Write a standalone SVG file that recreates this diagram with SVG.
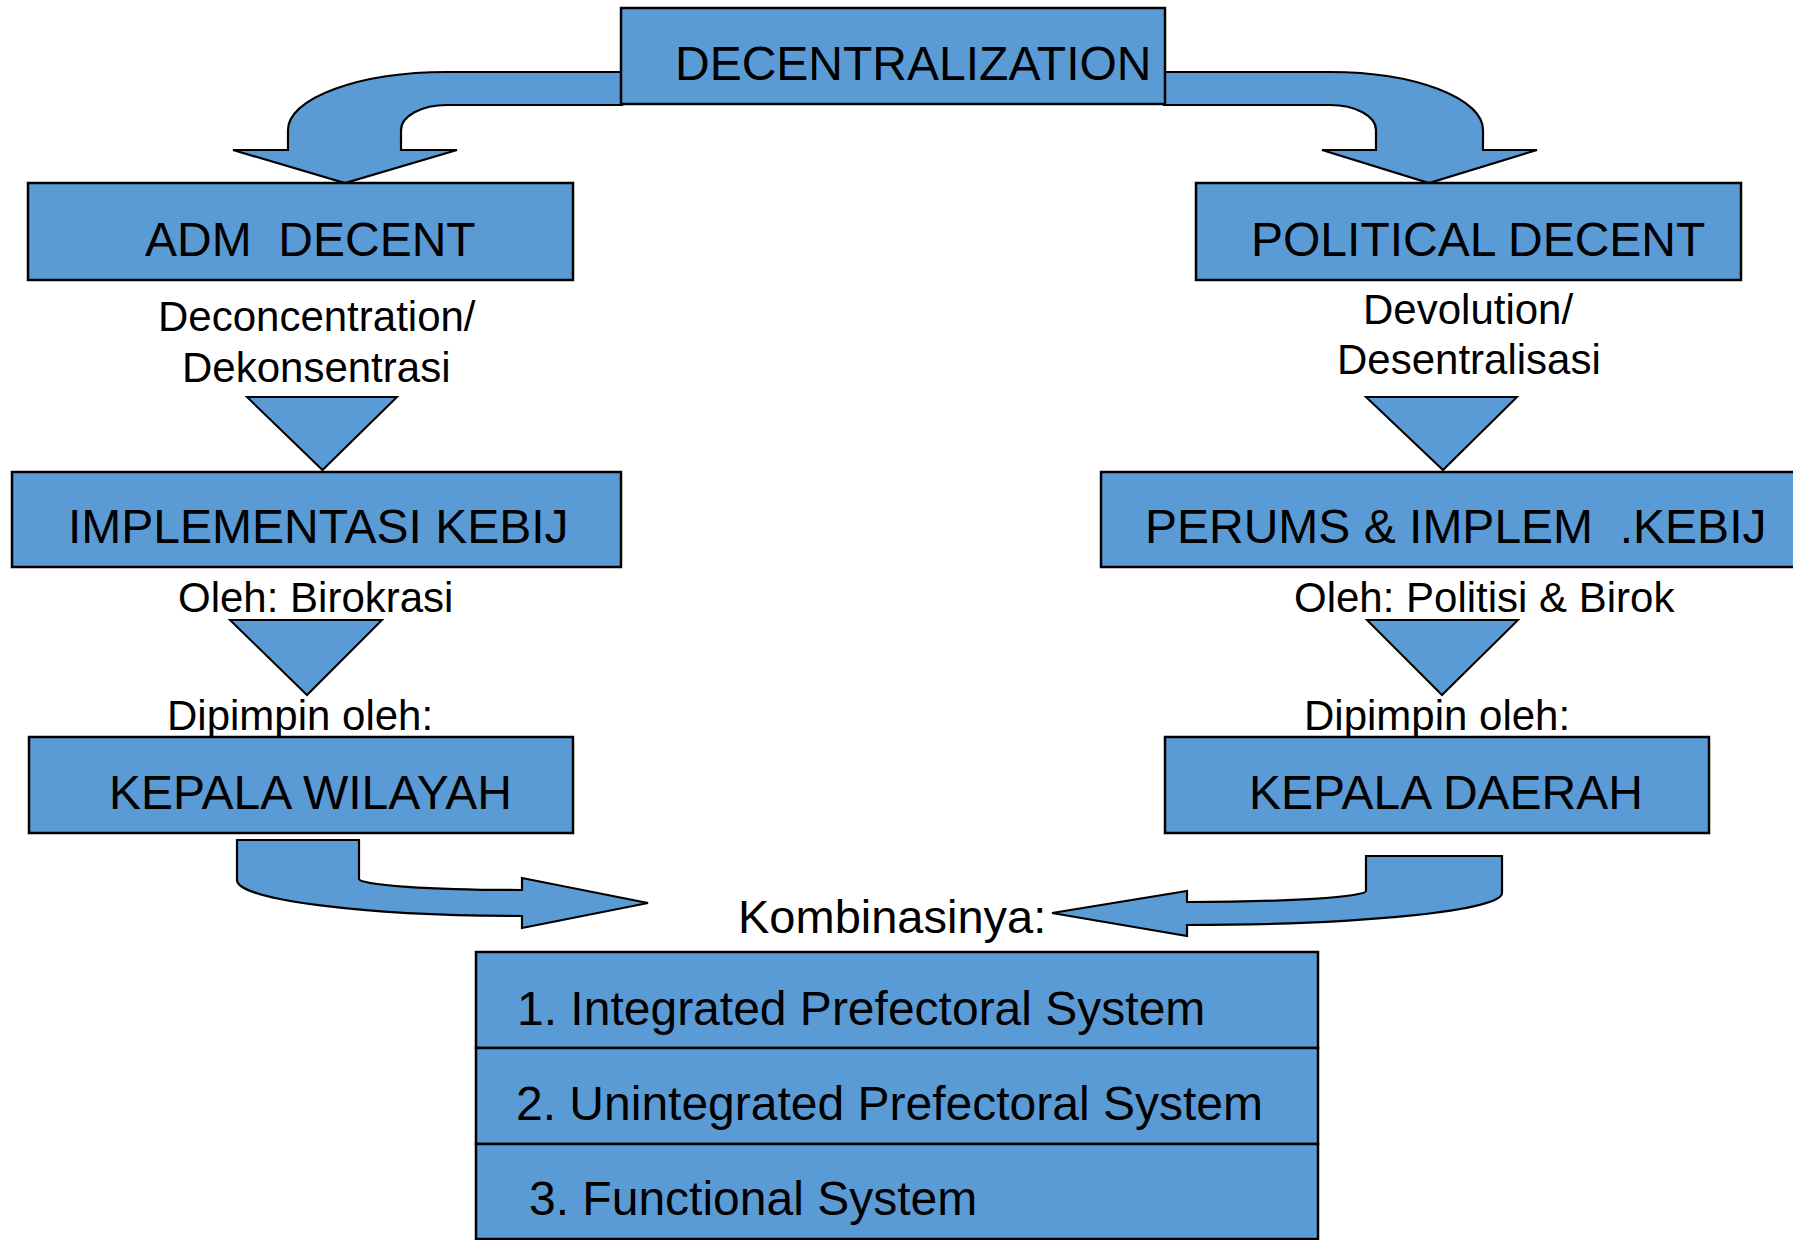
<svg xmlns="http://www.w3.org/2000/svg" width="1793" height="1240" viewBox="0 0 1793 1240">
<style>
  .box { fill: #5B9BD5; stroke: #000; stroke-width: 2.5; }
  .arr { fill: #5B9BD5; stroke: #000; stroke-width: 2.2; stroke-linejoin: miter; }
  .tri { fill: #5B9BD5; stroke: #000; stroke-width: 2; }
  text { font-family: "Liberation Sans", Arial, sans-serif; fill: #000; white-space: pre; }
  .big { font-size: 48px; }
  .lbl { font-size: 42px; }
</style>
<rect width="1793" height="1240" fill="#fff"/>

<g id="connectors">
  <path class="arr" d="M 622,72 L 447,72 A 159,58 0 0 0 288,130 L 288,150 L 233,150 L 345,183 L 457,150 L 401,150 L 401,130 A 46,25 0 0 1 447,105 L 622,105 Z"/>
  <path class="arr" d="M 1164,72 L 1330,72 A 153,58 0 0 1 1483,130 L 1483,150 L 1537,150 L 1429,183 L 1322,150 L 1376,150 L 1376,130 A 46,25 0 0 0 1330,105 L 1164,105 Z"/>
  <polygon class="tri" points="247,397 397,397 322.5,470"/>
  <polygon class="tri" points="1366,397 1517,397 1443,470"/>
  <polygon class="tri" points="230,620 382,620 307,695"/>
  <polygon class="tri" points="1367,620 1518,620 1442,695"/>
  <path class="arr" d="M 237,840 L 359,840 L 359,879 A 163,11 0 0 0 522,890 L 522,878 L 648,903 L 522,928 L 522,916 A 285,36 0 0 1 237,880 Z"/>
  <path class="arr" d="M 1366,856 L 1502,856 L 1502,893 A 315,32 0 0 1 1187,925 L 1187,936 L 1052,913 L 1187,891 L 1187,902 A 179,11 0 0 0 1366,891 Z"/>
</g>

<g id="decentralization">
  <rect class="box" x="621" y="8" width="544" height="96"/>
  <text class="big" x="675" y="80">DECENTRALIZATION</text>
</g>

<g id="adm-decent">
  <rect class="box" x="28" y="183" width="545" height="97"/>
  <text class="big" x="145" y="256">ADM  DECENT</text>
</g>

<g id="political-decent">
  <rect class="box" x="1196" y="183" width="545" height="97"/>
  <text class="big" x="1251" y="256">POLITICAL DECENT</text>
</g>

<g id="label-deconcentration">
  <text class="lbl" x="158" y="331">Deconcentration/</text>
  <text class="lbl" x="182" y="382">Dekonsentrasi</text>
</g>

<g id="label-devolution">
  <text class="lbl" x="1363" y="324">Devolution/</text>
  <text class="lbl" x="1337" y="374">Desentralisasi</text>
</g>

<g id="implementasi">
  <rect class="box" x="12" y="472" width="609" height="95"/>
  <text class="big" x="68" y="543">IMPLEMENTASI KEBIJ</text>
</g>

<g id="perums">
  <rect class="box" x="1101" y="472" width="700" height="95"/>
  <text class="big" x="1145" y="543">PERUMS &amp; IMPLEM  .KEBIJ</text>
</g>

<g id="label-oleh-left">
  <text class="lbl" x="178" y="612">Oleh: Birokrasi</text>
  <text class="lbl" x="167" y="730">Dipimpin oleh:</text>
</g>

<g id="label-oleh-right">
  <text class="lbl" x="1294" y="612">Oleh: Politisi &amp; Birok</text>
  <text class="lbl" x="1304" y="730">Dipimpin oleh:</text>
</g>

<g id="kepala-wilayah">
  <rect class="box" x="29" y="737" width="544" height="96"/>
  <text class="big" x="109" y="809">KEPALA WILAYAH</text>
</g>

<g id="kepala-daerah">
  <rect class="box" x="1165" y="737" width="544" height="96"/>
  <text class="big" x="1249" y="809">KEPALA DAERAH</text>
</g>

<g id="kombinasinya">
  <text style="font-size:47px" x="738" y="933">Kombinasinya:</text>
</g>

<g id="systems">
  <rect class="box" x="476" y="952" width="842" height="96"/>
  <rect class="box" x="476" y="1048" width="842" height="96"/>
  <rect class="box" x="476" y="1144" width="842" height="95"/>
  <text class="big" x="517" y="1025">1. Integrated Prefectoral System</text>
  <text class="big" x="516" y="1120">2. Unintegrated Prefectoral System</text>
  <text class="big" x="529" y="1215">3. Functional System</text>
</g>
</svg>
